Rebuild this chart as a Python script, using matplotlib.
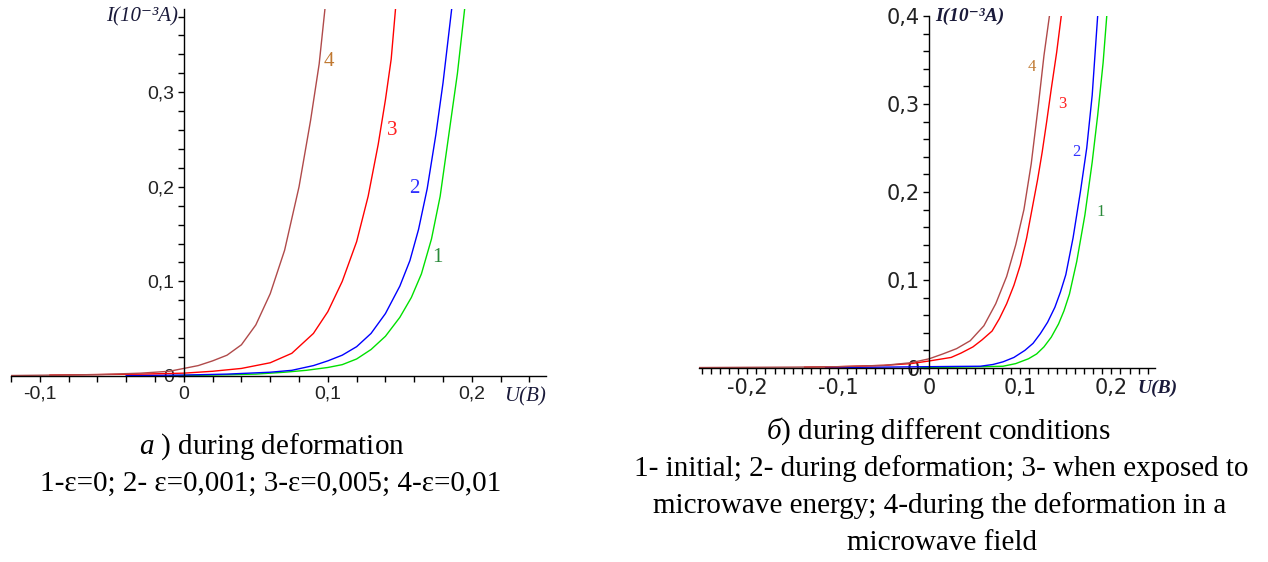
import matplotlib
matplotlib.use("Agg")
import matplotlib.pyplot as plt
from matplotlib.ticker import FixedLocator, FixedFormatter

plt.rcParams['mathtext.fontset'] = 'custom'
plt.rcParams['mathtext.rm'] = 'Liberation Serif'
plt.rcParams['mathtext.it'] = 'Liberation Serif:italic'

# ---- panel a) : during deformation ----
a_x1 = [-0.01, 0.02, 0.05, 0.07, 0.085, 0.1, 0.11, 0.12, 0.13, 0.14, 0.15, 0.158, 0.165, 0.172, 0.178, 0.184, 0.19, 0.195]
a_y1 = [0.0003, 0.001, 0.002, 0.004, 0.006, 0.009, 0.012, 0.018, 0.028, 0.042, 0.062, 0.083, 0.108, 0.145, 0.19, 0.255, 0.32, 0.388]
a_x2 = [-0.04, 0.0, 0.03, 0.06, 0.075, 0.09, 0.1, 0.11, 0.12, 0.13, 0.14, 0.15, 0.157, 0.163, 0.169, 0.175, 0.18, 0.186]
a_y2 = [0.0005, 0.001, 0.002, 0.004, 0.006, 0.011, 0.016, 0.022, 0.031, 0.045, 0.066, 0.095, 0.122, 0.155, 0.198, 0.255, 0.31, 0.388]
a_x3 = [-0.093, -0.06, -0.03, 0.0, 0.02, 0.04, 0.06, 0.075, 0.09, 0.1, 0.11, 0.12, 0.128, 0.135, 0.14, 0.144, 0.147]
a_y3 = [0.001, 0.0015, 0.002, 0.003, 0.005, 0.008, 0.014, 0.024, 0.045, 0.068, 0.1, 0.142, 0.19, 0.245, 0.292, 0.335, 0.388]
a_x4 = [-0.12, -0.09, -0.06, -0.03, -0.01, 0.0, 0.01, 0.02, 0.03, 0.04, 0.05, 0.06, 0.07, 0.08, 0.088, 0.094, 0.098]
a_y4 = [0.0005, 0.001, 0.0015, 0.003, 0.005, 0.008, 0.011, 0.016, 0.022, 0.033, 0.054, 0.087, 0.133, 0.2, 0.27, 0.33, 0.388]
a_lab_x = [0.176, 0.160, 0.145, 0.101]
a_lab_y = [0.125, 0.198, 0.260, 0.332]

# ---- panel б) : different conditions ----
b_x1 = [-0.01, 0.03, 0.06, 0.081, 0.095, 0.109, 0.118, 0.126, 0.134, 0.142, 0.148, 0.154, 0.162, 0.171, 0.179, 0.185, 0.191, 0.195]
b_y1 = [0.0003, 0.001, 0.0015, 0.002, 0.005, 0.0105, 0.016, 0.024, 0.035, 0.05, 0.065, 0.084, 0.121, 0.174, 0.234, 0.287, 0.347, 0.4]
b_x2 = [-0.114, -0.05, 0.0, 0.03, 0.056, 0.07, 0.081, 0.093, 0.105, 0.114, 0.122, 0.13, 0.138, 0.144, 0.15, 0.158, 0.166, 0.173, 0.179, 0.185]
b_y2 = [0.0005, 0.001, 0.0015, 0.0018, 0.002, 0.004, 0.007, 0.012, 0.02, 0.028, 0.039, 0.052, 0.069, 0.086, 0.106, 0.148, 0.2, 0.25, 0.31, 0.4]
b_x3 = [-0.137, -0.1, -0.05, -0.02, 0.0, 0.024, 0.035, 0.048, 0.058, 0.069, 0.077, 0.085, 0.093, 0.1, 0.107, 0.113, 0.119, 0.124, 0.129, 0.134, 0.14, 0.145]
b_y3 = [0.001, 0.0015, 0.003, 0.005, 0.008, 0.012, 0.017, 0.024, 0.032, 0.042, 0.056, 0.073, 0.094, 0.117, 0.148, 0.181, 0.214, 0.245, 0.28, 0.317, 0.359, 0.4]
b_x4 = [-0.253, -0.2, -0.15, -0.1, -0.05, -0.02, 0.0, 0.015, 0.03, 0.045, 0.06, 0.073, 0.085, 0.095, 0.104, 0.112, 0.12, 0.126, 0.132]
b_y4 = [0.0005, 0.0008, 0.001, 0.0015, 0.003, 0.006, 0.0105, 0.016, 0.022, 0.031, 0.048, 0.073, 0.104, 0.14, 0.18, 0.232, 0.3, 0.355, 0.4]
b_lab_x = [0.188, 0.1615, 0.146, 0.113]
b_lab_y = [0.177, 0.246, 0.300, 0.342]

curve_colors = ['#00e000', '#0000ff', '#ff0000', '#b04a4a']
label_colors = ['#2a8a3a', '#3030ff', '#ff2020', '#c07830']
curve_names = ['1', '2', '3', '4']

W, H = 1268, 562
fig = plt.figure(figsize=(W / 100, H / 100), dpi=100)


def setup(ax, xlim, ylim, xmaj, xlab, xmin, ymaj, ylab, ymin, fs, font):
    ax.set_xlim(*xlim)
    ax.set_ylim(*ylim)
    ax.patch.set_alpha(0)
    for s in ['top', 'right']:
        ax.spines[s].set_visible(False)
    ax.spines['left'].set_position(('data', 0))
    ax.spines['bottom'].set_position(('data', 0))
    for s in ['left', 'bottom']:
        ax.spines[s].set_linewidth(1.0)
    ax.xaxis.set_major_locator(FixedLocator(xmaj))
    ax.xaxis.set_major_formatter(FixedFormatter(xlab))
    ax.xaxis.set_minor_locator(FixedLocator(xmin))
    ax.yaxis.set_major_locator(FixedLocator(ymaj))
    ax.yaxis.set_major_formatter(FixedFormatter(ylab))
    ax.yaxis.set_minor_locator(FixedLocator(ymin))
    ax.tick_params(which='both', direction='out', length=4, width=1.0)
    ax.tick_params(axis='x', pad=3, labelsize=fs)
    ax.tick_params(axis='y', pad=3, labelsize=fs)
    for t in ax.get_xticklabels() + ax.get_yticklabels():
        t.set_fontfamily(font)
        t.set_color('#222222')


# left panel: x from -0.12 to 0.2515, y from 0 to 0.388
axa = fig.add_axes([11 / W, 1 - 376 / H, 535 / W, 367 / H])
setup(axa, (-0.12, 0.2515), (0, 0.388),
      [-0.1, 0, 0.1, 0.2], ['-0,1', '0', '0,1', '0,2'],
      [-0.12 + 0.02 * i for i in range(19)],
      [0, 0.1, 0.2, 0.3], ['0', '0,1', '0,2', '0,3'],
      [0.02 * i for i in range(20)], 14, 'Liberation Sans')
a_xs = [a_x1, a_x2, a_x3, a_x4]
a_ys = [a_y1, a_y2, a_y3, a_y4]
for i in range(4):
    axa.plot(a_xs[i], a_ys[i], color=curve_colors[i], lw=1.0)
    axa.text(a_lab_x[i], a_lab_y[i], curve_names[i], color=label_colors[i],
             fontsize=15, family='Liberation Serif', ha='center', va='center')
fig.text(178 / W, 1 - 17 / H, 'I(10⁻³A)', ha='right', va='center', fontsize=15,
         style='italic', family=['Liberation Serif', 'DejaVu Serif'], color='#1a1a3a')
fig.text(504 / W, 1 - 397 / H, 'U(B)', ha='left', va='center', fontsize=15,
         style='italic', family='Liberation Serif', color='#1a1a3a')

# right panel: x from -0.253 to 0.248, y from 0 to 0.4
axb = fig.add_axes([699 / W, 1 - 368 / H, 456 / W, 352 / H])
setup(axb, (-0.253, 0.248), (0, 0.4),
      [-0.2, -0.1, 0, 0.1, 0.2], ['-0,2', '-0,1', '0', '0,1', '0,2'],
      [-0.25 + 0.01 * i for i in range(50)],
      [0, 0.1, 0.2, 0.3, 0.4], ['0', '0,1', '0,2', '0,3', '0,4'],
      [0.02 * i for i in range(21)], 15, 'DejaVu Sans')
b_xs = [b_x1, b_x2, b_x3, b_x4]
b_ys = [b_y1, b_y2, b_y3, b_y4]
for i in range(4):
    axb.plot(b_xs[i], b_ys[i], color=curve_colors[i], lw=1.0)
    axb.text(b_lab_x[i], b_lab_y[i], curve_names[i], color=label_colors[i],
             fontsize=12, family='Liberation Serif', ha='center', va='center')
fig.text(935 / W, 1 - 16 / H, 'I(10⁻³A)', ha='left', va='center', fontsize=14,
         style='italic', weight='bold', family=['Liberation Serif', 'DejaVu Serif'],
         color='#1a1a3a')
fig.text(1137 / W, 1 - 388 / H, 'U(B)', ha='left', va='center', fontsize=14,
         style='italic', weight='bold', family='Liberation Serif', color='#1a1a3a')

# captions
cap = dict(fontsize=21, family='Liberation Serif', ha='center', va='center')
fig.text(272 / W, 1 - 447 / H, r'$\mathit{a\ )}$ during deformation', **cap)
fig.text(271 / W, 1 - 484 / H, '1-ε=0; 2- ε=0,001; 3-ε=0,005; 4-ε=0,01', **cap)
fig.text(938 / W, 1 - 431 / H, r'$\mathit{б)}$ during different conditions', **cap)
fig.text(941 / W, 1 - 469 / H, '1- initial; 2- during deformation; 3- when exposed to', **cap)
fig.text(940 / W, 1 - 506 / H, 'microwave energy; 4-during the deformation in a', **cap)
fig.text(942 / W, 1 - 543 / H, 'microwave field', **cap)

fig.savefig('out.png', dpi=100)
